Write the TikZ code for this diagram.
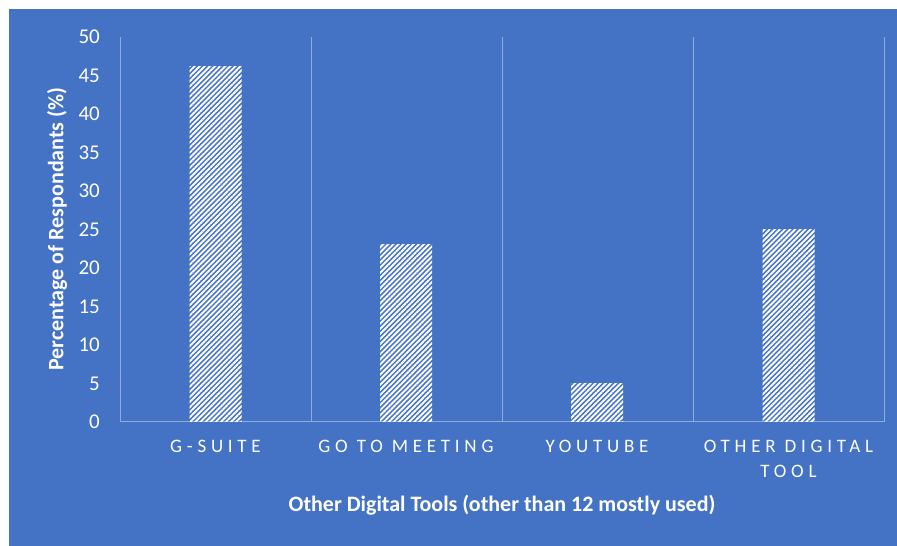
\documentclass[tikz,border=0pt]{standalone}
\usepackage{fontspec}
\setmainfont{Carlito}
\newfontfamily\spacedfont[LetterSpace=25]{Carlito}
\usetikzlibrary{
  positioning,
  patterns.meta,
}
\definecolor{chartblue}{HTML}{4472C4}
\tikzset{
  x=1pt,
  y=1pt,
  grid line/.style={
    draw=white!40!chartblue,
    line width=1pt,
  },
  bar/.style={
    rectangle,
    inner sep=0pt,
    minimum width=52pt,
    anchor=south,
    pattern={Lines[angle=45,distance=3.6pt,line width=1.9pt]},
    pattern color=white,
  },
  tick label/.style={
    anchor=east,
    inner sep=0pt,
    text=white,
    font=\fontsize{21}{24}\selectfont,
  },
  cat label/.style={
    anchor=north,
    inner sep=0pt,
    align=center,
    text=white,
    font=\spacedfont\fontsize{19}{25}\selectfont,
  },
  axis title/.style={
    inner sep=0pt,
    text=white,
    font=\bfseries\fontsize{22}{25}\selectfont,
  },
}
\begin{document}
\begin{tikzpicture}
  \useasboundingbox (0,0) rectangle (897,546);
  \fill[chartblue] (9,0) rectangle (897,537);

  % category borders and base line
  \foreach \gx in {120,311,502,693,884}
    \draw[grid line] (\gx,124) -- (\gx,509);
  \draw[grid line] (120,124) -- (884,124);

  % value axis
  \foreach \v in {0,5,...,50}
    \node[tick label] (tick\v) at (100,124+\v*7.7) {\v};

  % bars
  \foreach \cx/\v/\name in {215.5/46/gsuite, 406/23/gotomeeting,
                            597/5/youtube, 788.5/25/othertool}
    \node[bar, minimum height=\v*7.7pt] (\name) at (\cx,124) {};

  \node[cat label] (gsuite label) at (215.5,106) {G-SUITE};
  \node[cat label] (gotomeeting label) at (406,106) {GO TO MEETING};
  \node[cat label] (youtube label) at (597,106) {YOUTUBE};
  \node[cat label] (othertool label) at (788.5,106) {OTHER DIGITAL\\TOOL};

  \node[axis title] (x title) at (502,41)
    {Other Digital Tools (other than 12 mostly used)};
  \node[axis title, rotate=90] (y title) at (57,317)
    {Percentage of Respondants (\%)};
\end{tikzpicture}
\end{document}
